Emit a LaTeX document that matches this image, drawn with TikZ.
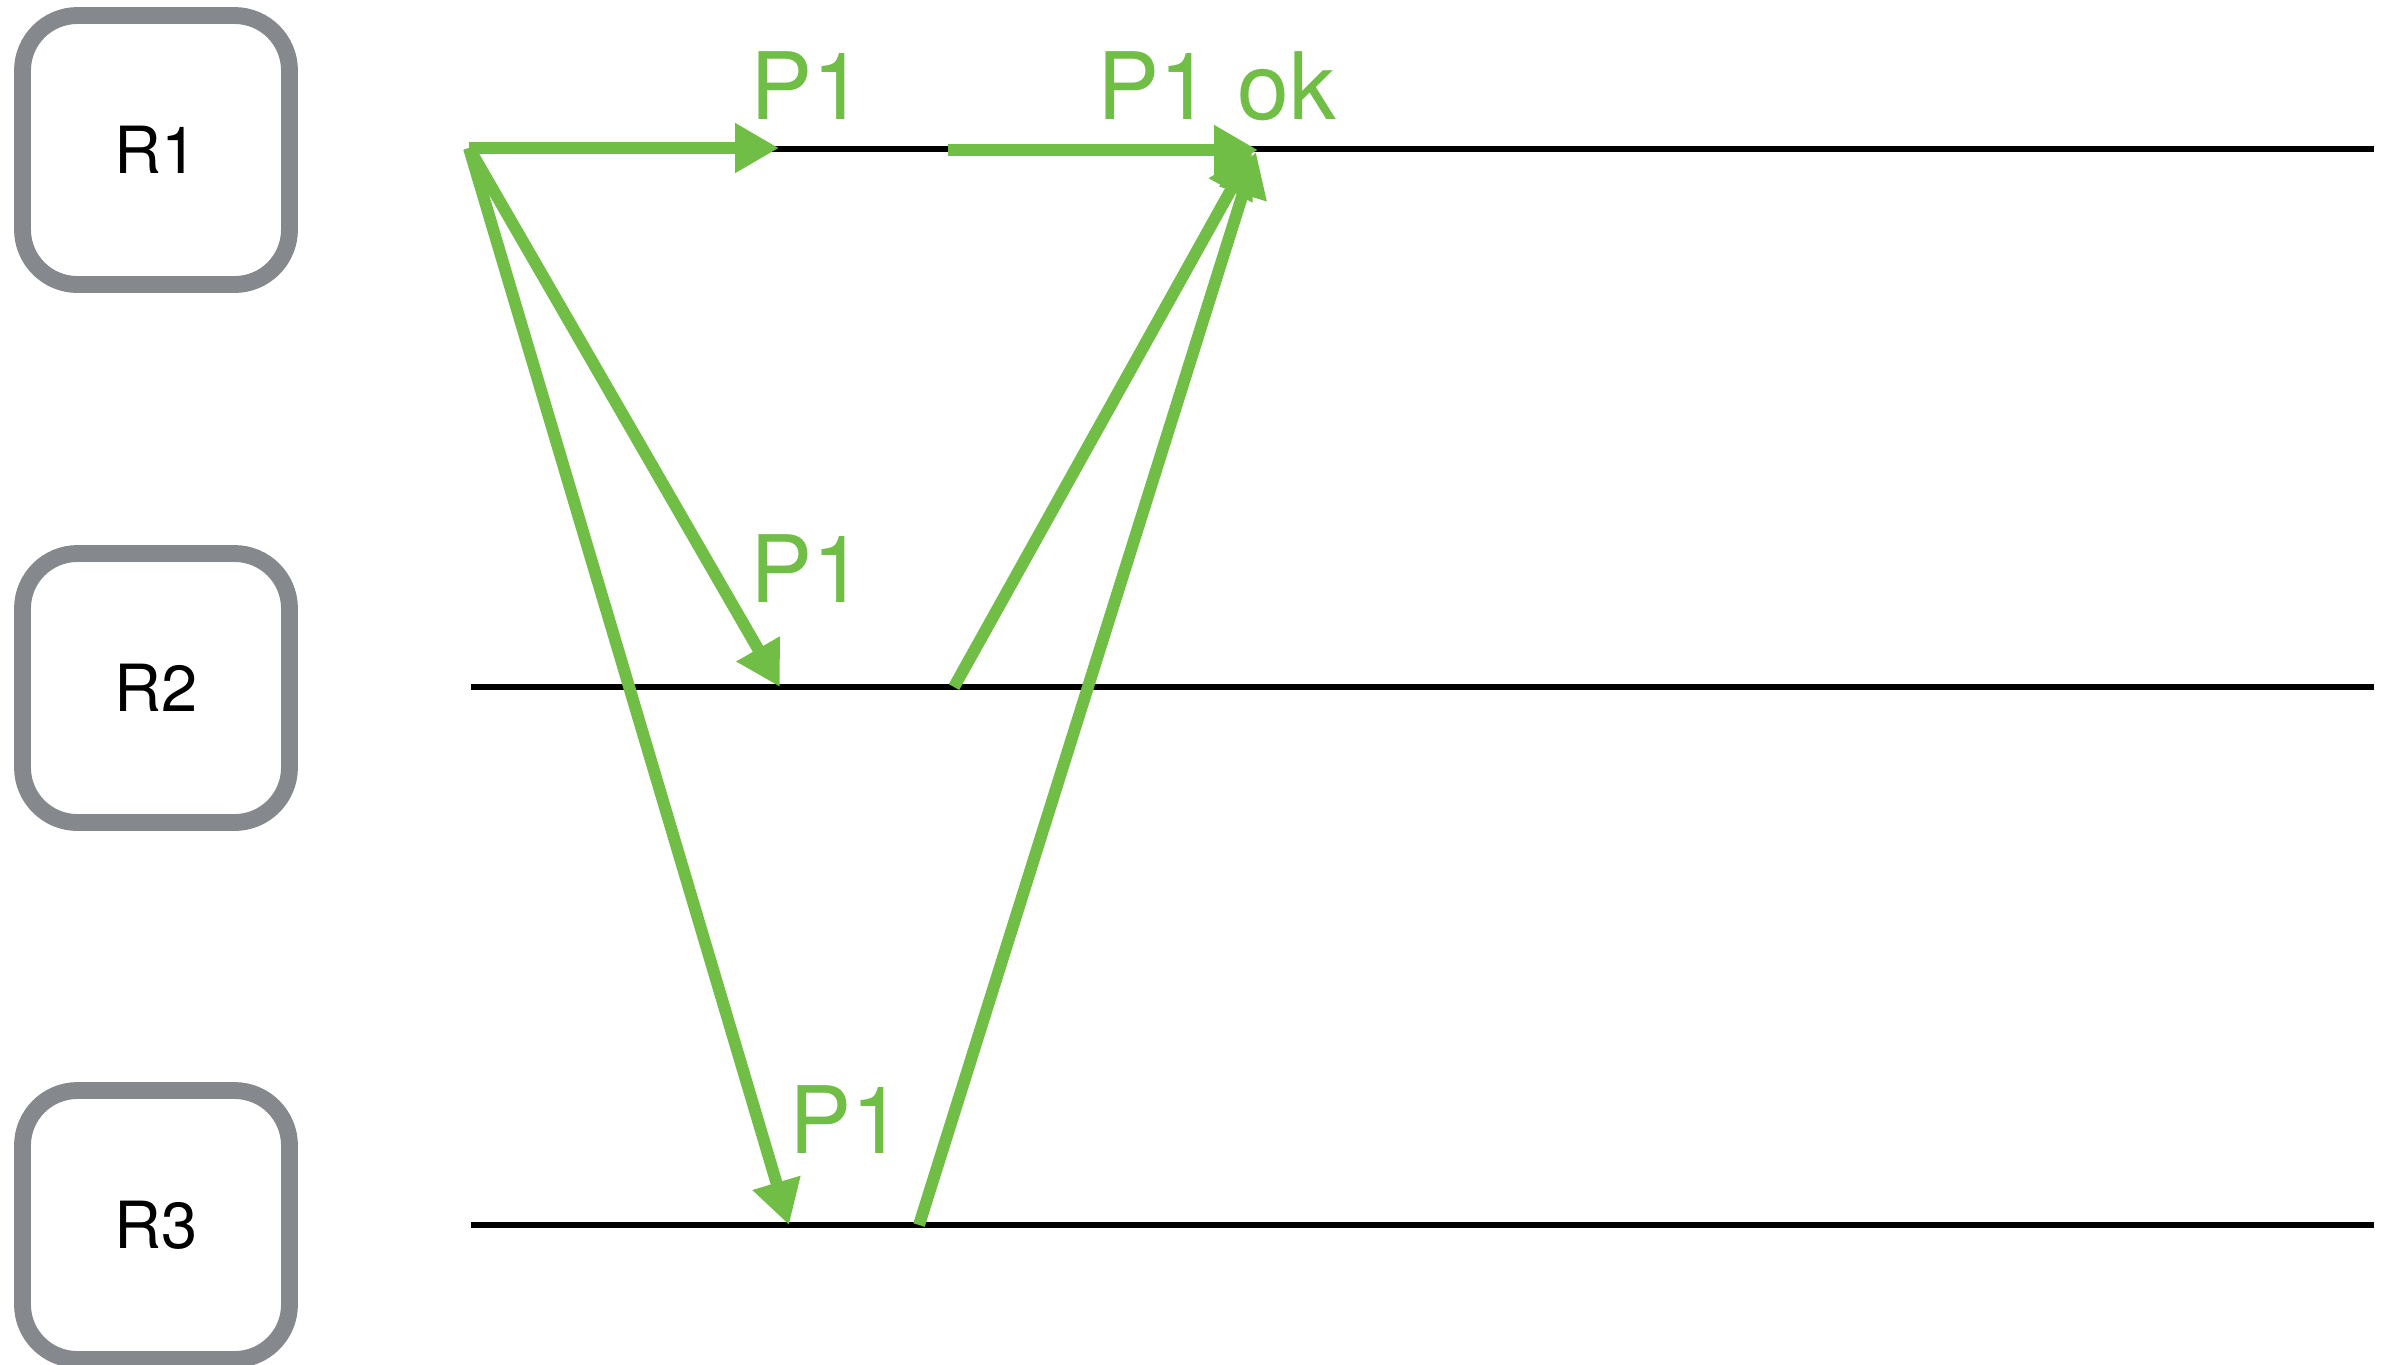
\documentclass[tikz,border=0pt]{standalone}
\usepackage{fontspec}
\setmainfont{TeX Gyre Heros}
\usetikzlibrary{arrows.meta,positioning}
\definecolor{msggreen}{RGB}{112,190,69}
\definecolor{boxgray}{RGB}{133,136,140}

\begin{document}
\begin{tikzpicture}[
    rbox/.style={draw=boxgray, line width=4.8pt, rounded corners=0.55cm, minimum width=2.67cm, minimum height=2.69cm, inner sep=0pt, font=\fontsize{18.5}{21}\selectfont},
    tl/.style={line width=1.7pt},
    msg/.style={draw=msggreen, line width=3.4pt, -{Triangle[length=0.44cm, width=0.47cm]}},
    lbl/.style={text=msggreen, font=\fontsize{26.5}{30}\selectfont, anchor=base west, inner sep=0pt}
]
\useasboundingbox (0,0) rectangle (23.89,-13.64);

\node[rbox] (r1) at (1.56,-1.50) {R1};
\node[rbox] (r2) at (1.56,-6.88) {R2};
\node[rbox] (r3) at (1.56,-12.25) {R3};

\coordinate (t1) at (4.71,-1.49);
\coordinate (t2) at (4.71,-6.87);
\coordinate (t3) at (4.71,-12.25);
\coordinate (e1) at (23.74,-1.49);
\coordinate (e2) at (23.74,-6.87);
\coordinate (e3) at (23.74,-12.25);

\draw[tl] (t1) -- (e1);
\draw[tl] (t2) -- (e2);
\draw[tl] (t3) -- (e3);

\coordinate (send) at (4.69,-1.48);
\coordinate (prop) at (7.79,-1.48);
\coordinate (wait) at (9.48,-1.50);
\coordinate (done) at (12.58,-1.50);
\coordinate (in2) at (7.80,-6.87);
\coordinate (out2) at (9.54,-6.87);
\coordinate (in3) at (7.89,-12.25);
\coordinate (out3) at (9.19,-12.25);
\coordinate (ack2) at (12.52,-1.52);
\coordinate (ack3) at (12.56,-1.52);

\draw[msg] (send) -- (prop);
\draw[msg] (wait) -- (done);
\draw[msg] (send) -- (in2);
\draw[msg] (send) -- (in3);
\draw[msg] (out2) -- (ack2);
\draw[msg] (out3) -- (ack3);

\node[lbl] (p1a) at (7.50,-1.19) {P1};
\node[lbl] (p1ok) at (10.97,-1.19) {P1 ok};
\node[lbl] (p1b) at (7.50,-6.02) {P1};
\node[lbl] (p1c) at (7.89,-11.53) {P1};
\end{tikzpicture}
\end{document}
